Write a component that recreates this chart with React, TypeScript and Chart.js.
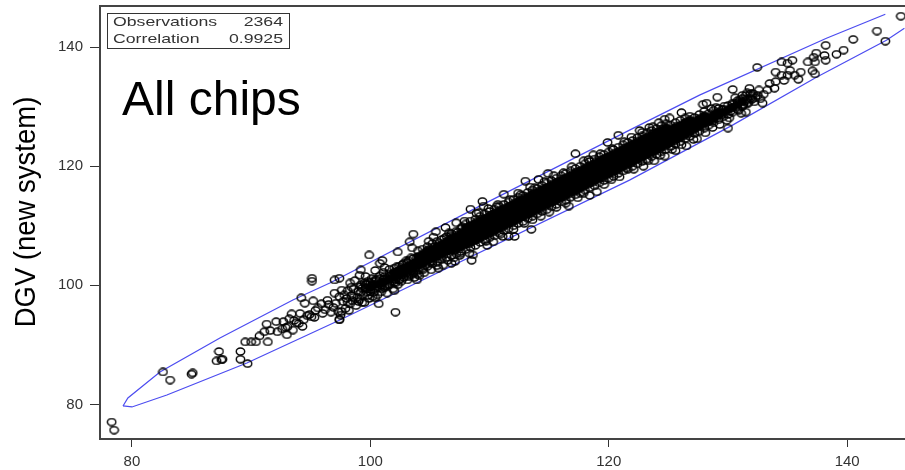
import React, { useEffect, useRef } from "react";
import { Chart, registerables } from "chart.js";

Chart.register(...registerables);

const xTicks = [80, 100, 120, 140];
const yTicks = [80, 100, 120, 140];
const statLabels = ["Observations", "Correlation"];
const statValues = ["2364", "0.9925"];
const panelLabel = "All chips";
const yAxisLabel = "DGV (new system)";

const upperEllipse = [
  [79.25, 79.75], [79.66, 81.09], [82.35, 85.45], [87.38, 91.16], [93.5, 97.53], [96.6, 100.39],
  [109.17, 113.3], [121.74, 126.06], [127.61, 131.93], [138.26, 141.49], [143.2, 145.52],
];
const lowerEllipse = [
  [79.25, 79.75], [80.0, 79.58], [82.93, 81.59], [89.64, 86.96], [97.44, 94.18], [121.74, 117.67],
  [130.38, 126.9], [137.42, 134.95], [143.29, 141.16], [144.8, 143.17],
];

const lowTail = [
  [78.3, 77.05], [78.5, 75.7], [82.6, 85.45], [83.2, 84.1], [85.0, 85.1], [85.1, 85.3],
  [87.3, 88.9], [87.1, 87.3], [87.5, 87.5], [87.6, 87.6], [89.1, 88.9], [89.1, 87.6], [89.7, 86.85],
  [89.5, 90.5], [90.0, 90.5], [90.4, 90.5], [91.4, 90.5], [91.3, 93.5], [90.7, 91.5], [91.1, 92.2],
  [91.6, 92.4], [92.1, 93.9], [92.7, 93.9], [92.2, 92.2], [93.0, 91.7], [93.05, 93.05], [93.4, 95.2],
  [93.8, 93.7], [94.1, 95.3], [93.5, 92.5], [95.05, 94.7], [96.0, 95.3], [97.4, 94.3], [94.5, 97.0],
  [95.2, 97.4], [95.1, 101.2], [95.1, 100.7], [94.2, 97.9], [94.4, 94.2], [94.7, 94.9], [93.2, 94.4],
  [92.6, 92.7], [92.9, 92.9], [93.6, 94.1], [94.0, 93.6], [94.3, 93.1], [94.9, 95.1], [95.3, 94.6],
  [95.6, 96.2], [95.9, 96.9], [95.4, 95.8], [96.2, 95.9], [96.5, 96.8], [96.7, 95.5], [96.9, 96.3],
  [96.4, 97.5], [97.1, 97.0], [97.3, 95.6], [97.5, 95.0], [97.0, 98.7], [97.4, 98.1], [97.7, 97.3],
];

const midBand = [
  [97.9, 96.1], [98.0, 97.8], [98.1, 99.1], [98.3, 96.9], [98.4, 98.3], [98.5, 97.4], [98.6, 99.4],
  [98.8, 96.6], [98.9, 98.0], [99.0, 99.0], [99.1, 97.7], [99.2, 100.1], [99.4, 98.4], [99.5, 97.1],
  [99.6, 99.6], [99.7, 98.9], [99.8, 100.7], [99.9, 97.8], [100.0, 99.3], [100.1, 101.1], [100.2, 100.2],
  [100.3, 98.8], [100.4, 97.9], [100.5, 100.9], [100.6, 99.7], [100.8, 101.6], [100.9, 98.9], [101.0, 100.4],
  [101.1, 102.2], [101.2, 99.6], [101.3, 101.2], [101.4, 98.7], [101.5, 100.1], [101.6, 102.7], [101.7, 101.6],
  [101.8, 100.6], [101.9, 99.4], [102.0, 102.2], [102.1, 101.0], [102.2, 103.1], [102.3, 100.1], [102.4, 101.8],
  [102.5, 102.7], [102.6, 100.7], [102.7, 103.5], [102.8, 101.4], [102.9, 102.3], [103.0, 104.1], [103.1, 100.9],
  [103.2, 103.1], [103.3, 101.9], [103.4, 104.6], [103.5, 102.5], [103.6, 103.6], [103.7, 101.3], [103.8, 102.9],
  [103.9, 104.7], [102.0, 99.1], [101.2, 103.0], [100.4, 102.5], [99.6, 101.5], [98.7, 100.8], [98.2, 95.8],
  [104.1, 101.6], [104.5, 102.1], [104.9, 107.4], [105.3, 108.1], [105.7, 102.9], [106.1, 103.4], [106.6, 108.8],
  [107.1, 104.0], [107.9, 110.8], [108.6, 105.1], [109.1, 112.2], [109.8, 106.7], [110.7, 113.6], [111.6, 108.2],
  [97.8, 98.4], [98.1, 97.2], [98.6, 98.0], [99.0, 97.3], [99.3, 99.5], [99.5, 100.4], [99.8, 98.3], [100.1, 99.9],
  [100.3, 100.6], [100.6, 98.4], [100.9, 100.0], [101.1, 101.0], [101.4, 99.9], [101.6, 101.1], [101.9, 101.9],
  [102.1, 100.4], [102.3, 102.3], [102.6, 101.9], [102.8, 102.9], [103.0, 102.0], [103.2, 101.4], [103.4, 102.9],
  [103.6, 102.2], [103.8, 103.8], [104.0, 101.9], [104.2, 104.2], [104.4, 102.6], [104.6, 103.4], [104.8, 105.9],
  [105.0, 103.9], [105.2, 104.0], [105.4, 106.5], [105.6, 103.3], [105.8, 107.1], [106.0, 104.8], [106.2, 107.9],
  [106.5, 104.2], [106.7, 108.3], [107.0, 104.6], [107.3, 108.9], [107.5, 105.0], [107.7, 109.8], [103.1, 103.8],
  [102.4, 100.9], [101.0, 99.4], [99.7, 100.2], [98.4, 99.7], [97.6, 99.2],
];

const edgePoints = [
  [102.1, 95.5], [100.7, 96.9], [108.5, 104.2], [112.1, 108.2], [113.5, 109.4], [116.65, 113.3], [97.4, 94.2],
  [103.6, 108.6], [99.9, 105.1], [103.3, 107.3], [102.3, 105.6], [97.4, 101.2], [97.0, 100.9], [105.5, 109.0],
  [106.3, 109.7], [107.2, 110.5], [108.4, 112.8], [109.4, 114.1], [109.5, 113.3], [111.2, 115.3], [113, 117.5],
  [114.1, 117.8], [117.2, 122.1], [119.9, 124.0], [120.8, 125.2], [118.7, 121.9], [114.9, 118.8], [112.4, 115.5],
  [113.4, 116.5], [99.2, 102.6], [99.1, 101.7], [98.3, 100.4], [101.0, 104.2], [100.8, 103.7], [103.5, 106.3],
  [108.3, 105.4], [107.6, 105.4], [106.8, 103.7], [105.1, 102.6], [103.9, 100.9], [100.2, 98.1], [99.3, 97.1],
  [97.6, 95.6], [110.3, 107.3], [111.1, 108.2], [115.0, 112.3], [113.6, 111.0], [118.4, 115.1], [119.0, 115.7],
  [120.2, 117.7], [121.5, 119.7], [122.6, 126.0], [123.4, 126.5], [124.2, 127.3], [125.1, 128.1], [126.1, 129.0],
  [122.9, 120.0], [123.8, 120.9], [124.7, 121.7], [125.6, 122.6], [126.5, 123.4], [127.4, 124.6], [127.9, 130.4],
  [108.9, 112.1], [109.9, 112.9], [110.6, 113.2], [111.7, 114.4], [112.6, 115.2], [113.8, 116.4], [114.6, 117.4],
  [115.4, 118.4], [116.2, 118.9], [116.9, 119.9], [117.9, 120.9], [118.3, 121.1], [119.3, 122.1], [120.3, 122.9],
  [121.3, 124.1], [121.9, 124.9], [122.8, 125.7], [123.7, 126.6], [124.7, 127.9], [109.7, 107.4], [110.9, 108.6],
  [112.0, 109.4], [112.9, 110.4], [114.3, 111.6], [115.6, 113.1], [116.4, 113.8], [117.4, 114.7], [117.9, 115.5],
  [119.6, 116.9], [120.9, 118.2], [122.1, 119.5], [123.3, 120.9], [124.3, 121.8], [125.3, 122.8], [126.1, 123.6],
  [127.1, 124.5], [128.1, 125.6], [128.7, 126.5], [129.3, 127.0],
];

const highTail = [
  [144.5, 145.2], [142.5, 142.7], [143.2, 141.0], [140.5, 141.3], [139.7, 139.5], [139.1, 138.8], [138.2, 140.3],
  [137.4, 139.0], [138.1, 138.6], [138.2, 137.8], [137.2, 138.3], [136.7, 137.5], [137.3, 137.5], [135.4, 137.8],
  [134.5, 137.5], [135.0, 137.3], [132.45, 136.6], [134.0, 135.8], [135.2, 136.1], [136.1, 135.8], [137.1, 136.0],
  [137.3, 135.5], [134.7, 134.4], [135.9, 134.6], [135.6, 135.3], [135.0, 135.3], [134.5, 135.3], [134.0, 134.2],
  [133.5, 133.9], [133.9, 133.1], [133.3, 132.8], [130.4, 132.9], [129.1, 131.6], [132.9, 130.6], [132.5, 131.9],
  [132.6, 132.8], [131.8, 133.1], [131.5, 131.9], [131.9, 131.4], [132.2, 130.8], [131.0, 131.1], [131.2, 131.9],
  [130.7, 130.0], [131.1, 128.9], [131.5, 129.1], [130.1, 128.1], [128.2, 130.6], [130.0, 126.4], [131.3, 130.4],
  [131.7, 130.6], [130.9, 129.4], [130.4, 130.4], [131.6, 132.3], [132.1, 132.2], [133.0, 132.1], [132.7, 131.3],
  [130.6, 131.5], [130.2, 129.2], [129.7, 130.1], [129.4, 128.6], [130.3, 129.8], [130.8, 130.7], [131.2, 130.1],
  [131.5, 131.0], [131.9, 132.2], [132.3, 131.5], [129.9, 127.7], [129.5, 129.5], [129.0, 129.9], [128.6, 129.7],
];

const coreColumns: [number, number[]][] = [
  [99.2, [98.9, 99.8]],
  [99.6, [99.4, 100.1]],
  [100.0, [98.9, 99.6, 100.4]],
  [100.4, [99.4, 100.1, 100.9]],
  [100.8, [99.6, 100.3, 101.1]],
  [101.2, [99.9, 100.7, 101.5]],
  [101.6, [100.2, 101.0, 101.9]],
  [102.0, [100.5, 101.3, 102.1, 102.9]],
  [102.4, [100.9, 101.7, 102.5, 103.2]],
  [102.8, [101.3, 102.1, 102.9, 103.7]],
  [103.2, [101.6, 102.4, 103.3, 104.1]],
  [103.6, [102.0, 102.8, 103.6, 104.5]],
  [104.0, [102.5, 103.3, 104.1, 104.9, 105.8]],
  [104.4, [102.9, 103.6, 104.6, 105.3, 106.1]],
  [104.8, [103.2, 104.1, 104.9, 105.8, 106.5]],
  [105.2, [103.6, 104.5, 105.4, 106.1, 107.0]],
  [105.6, [103.9, 104.8, 105.8, 106.6, 107.4]],
  [106.0, [104.4, 105.2, 106.1, 106.9, 107.7]],
  [106.4, [104.7, 105.7, 106.6, 107.4, 108.2]],
  [106.8, [105.0, 105.8, 106.5, 107.2, 108.0, 108.7]],
  [107.2, [105.3, 106.1, 106.9, 107.5, 108.3, 109.1]],
  [107.6, [105.7, 106.5, 107.3, 108.0, 108.8, 109.5]],
  [108.0, [106.0, 106.8, 107.5, 108.3, 109.0, 109.7, 110.3]],
  [108.4, [106.4, 107.1, 107.9, 108.6, 109.4, 110.1, 110.8]],
  [108.8, [106.7, 107.5, 108.2, 109.0, 109.8, 110.5, 111.1]],
  [109.2, [107.2, 107.9, 108.7, 109.4, 110.1, 110.9, 111.6]],
  [109.6, [107.6, 108.3, 109.0, 109.8, 110.6, 111.3, 112.0]],
  [110.0, [108.0, 108.7, 109.5, 110.2, 110.9, 111.7, 112.4]],
  [110.4, [108.3, 109.1, 109.8, 110.6, 111.4, 112.1, 112.8]],
  [110.8, [108.8, 109.5, 110.3, 111.0, 111.7, 112.5, 113.2]],
  [111.2, [109.2, 109.9, 110.6, 111.4, 112.2, 112.9, 113.6]],
  [111.6, [109.5, 110.3, 111.1, 111.8, 112.5, 113.3, 114.0]],
  [112.0, [110.0, 110.7, 111.4, 112.2, 113.0, 113.7, 114.4]],
  [112.4, [110.4, 111.1, 111.9, 112.6, 113.3, 114.1, 114.8]],
  [112.8, [110.7, 111.5, 112.3, 113.0, 113.8, 114.5, 115.1]],
  [113.2, [111.2, 111.9, 112.6, 113.4, 114.2, 114.9, 115.6]],
  [113.6, [111.6, 112.3, 113.1, 113.8, 114.5, 115.3, 116.0]],
  [114.0, [112.0, 112.7, 113.4, 114.2, 115.0, 115.7, 116.3]],
  [114.4, [112.4, 113.1, 113.9, 114.6, 115.3, 116.1, 116.8]],
  [114.8, [112.7, 113.5, 114.2, 115.0, 115.8, 116.5, 117.2]],
  [115.2, [113.2, 113.9, 114.7, 115.4, 116.1, 116.9, 117.6]],
  [115.6, [113.6, 114.3, 115.0, 115.8, 116.6, 117.3, 118.0]],
  [116.0, [114.0, 114.7, 115.5, 116.2, 116.9, 117.7, 118.4]],
  [116.4, [114.3, 115.1, 115.8, 116.6, 117.4, 118.1, 118.8]],
  [116.8, [114.8, 115.5, 116.3, 117.0, 117.7, 118.5, 119.2]],
  [117.2, [115.2, 115.9, 116.6, 117.4, 118.2, 118.9, 119.6]],
  [117.6, [115.5, 116.3, 117.1, 117.8, 118.5, 119.3, 120.0]],
  [118.0, [116.0, 116.7, 117.4, 118.2, 119.0, 119.7, 120.4]],
  [118.4, [116.4, 117.1, 117.9, 118.6, 119.3, 120.1, 120.8]],
  [118.8, [116.7, 117.5, 118.2, 119.0, 119.8, 120.5, 121.2]],
  [119.2, [117.2, 117.9, 118.7, 119.4, 120.1, 120.9, 121.6]],
  [119.6, [117.6, 118.3, 119.0, 119.8, 120.6, 121.3, 122.0]],
  [120.0, [118.0, 118.7, 119.5, 120.2, 120.9, 121.7, 122.4]],
  [120.4, [118.3, 119.1, 119.8, 120.6, 121.4, 122.1, 122.8]],
  [120.8, [118.8, 119.5, 120.3, 121.0, 121.7, 122.5, 123.2]],
  [121.2, [119.2, 119.9, 120.6, 121.4, 122.2, 122.9, 123.6]],
  [121.6, [119.5, 120.3, 121.1, 121.8, 122.5, 123.3, 124.0]],
  [122.0, [120.0, 120.7, 121.4, 122.2, 123.0, 123.7, 124.3]],
  [122.4, [120.4, 121.1, 121.9, 122.6, 123.3, 124.1, 124.8]],
  [122.8, [120.8, 121.5, 122.2, 123.0, 123.8, 124.5, 125.1]],
  [123.2, [121.2, 121.9, 122.7, 123.4, 124.1, 124.9, 125.6]],
  [123.6, [121.6, 122.3, 123.0, 123.8, 124.6, 125.3, 126.0]],
  [124.0, [122.0, 122.7, 123.5, 124.2, 124.9, 125.7, 126.3]],
  [124.4, [122.4, 123.1, 123.8, 124.6, 125.4, 126.1, 126.8]],
  [124.8, [122.8, 123.5, 124.3, 125.0, 125.7, 126.5, 127.1]],
  [125.2, [123.3, 124.0, 124.7, 125.4, 126.2, 126.9]],
  [125.6, [123.7, 124.4, 125.1, 125.8, 126.6, 127.3]],
  [126.0, [124.1, 124.8, 125.5, 126.2, 126.9, 127.7]],
  [126.4, [124.6, 125.2, 126.0, 126.7, 127.4, 128.1]],
  [126.8, [125.0, 125.7, 126.4, 127.1, 127.8, 128.4]],
  [127.2, [125.5, 126.2, 126.9, 127.5, 128.2]],
  [127.6, [125.9, 126.6, 127.3, 128.0, 128.7]],
  [128.0, [126.4, 127.1, 127.8, 128.5, 129.2]],
  [128.4, [126.9, 127.5, 128.2, 128.9]],
  [128.8, [127.3, 127.9, 128.6, 129.4]],
  [129.2, [127.8, 128.5, 129.1, 129.7]],
  [129.6, [128.3, 129.0, 129.6]],
  [130.0, [128.7, 129.5, 130.2]],
  [130.4, [129.1, 129.9, 130.6]],
  [130.8, [129.6, 130.3, 131.0]],
  [131.2, [130.1, 130.8, 131.4]],
  [131.6, [130.6, 131.3]],
  [132.0, [131.2, 131.8]],
];

const solidPoints = coreColumns.flatMap(([x, ys]) => ys.slice(1, -1).map((y) => ({ x, y })));
const rimPoints = coreColumns.flatMap(([x, ys]) => [{ x, y: ys[0] }, { x, y: ys[ys.length - 1] }]);
const toPoints = (rows: number[][]) => rows.map(([x, y]) => ({ x, y }));

function makeRing(fill: boolean) {
  const cv = document.createElement("canvas");
  cv.width = 11;
  cv.height = 9;
  const c = cv.getContext("2d") as CanvasRenderingContext2D;
  c.beginPath();
  c.ellipse(5.5, 4.5, 4.2, 3.5, 0, 0, Math.PI * 2);
  if (fill) {
    c.fillStyle = "#000";
    c.fill();
  }
  c.strokeStyle = "#000";
  c.lineWidth = 1.4;
  c.stroke();
  return cv;
}

const textOverlay = {
  id: "textOverlay",
  afterDraw(chart: any) {
    const c = chart.ctx;
    c.save();
    c.strokeStyle = "#444";
    c.lineWidth = 2;
    c.beginPath();
    c.moveTo(100, 6);
    c.lineTo(905, 6);
    c.stroke();
    c.fillStyle = "#fff";
    c.fillRect(107, 13, 182, 36);
    c.strokeStyle = "#333";
    c.lineWidth = 1;
    c.strokeRect(107.5, 13.5, 182, 35);
    c.fillStyle = "#333";
    c.font = '13px "Liberation Sans"';
    statLabels.forEach((t, i) => {
      const base = 26 + i * 17;
      c.save();
      c.translate(113, base);
      c.scale(1.36, 1);
      c.textAlign = "left";
      c.fillText(t, 0, 0);
      c.restore();
      c.save();
      c.translate(283, base);
      c.scale(1.36, 1);
      c.textAlign = "right";
      c.fillText(statValues[i], 0, 0);
      c.restore();
    });
    c.fillStyle = "#000";
    c.font = '48px "Liberation Sans"';
    c.textAlign = "left";
    c.fillText(panelLabel, 122, 115);
    c.save();
    c.translate(35, 212);
    c.rotate(-Math.PI / 2);
    c.scale(1, 1.1);
    c.font = '27.5px "Liberation Sans"';
    c.textAlign = "center";
    c.fillText(yAxisLabel, 0, 0);
    c.restore();
    c.restore();
  },
};

export default function App() {
  const ref = useRef<HTMLCanvasElement>(null);
  useEffect(() => {
    document.body.style.margin = "0";
    const ring = { pointStyle: makeRing(false), showLine: false };
    const solid = { pointStyle: makeRing(true), showLine: false };
    const chart = new Chart(ref.current as HTMLCanvasElement, {
      type: "scatter",
      data: {
        datasets: [
          { label: "Upper limit", data: toPoints(upperEllipse), showLine: true, borderColor: "#4c4cf0", borderWidth: 1.2, pointRadius: 0, order: 5 },
          { label: "Lower limit", data: toPoints(lowerEllipse), showLine: true, borderColor: "#4c4cf0", borderWidth: 1.2, pointRadius: 0, order: 5 },
          { label: "Low tail", data: toPoints(lowTail), ...ring, order: 1 },
          { label: "Mid band", data: toPoints(midBand), ...ring, order: 1 },
          { label: "Edge", data: toPoints(edgePoints), ...ring, order: 1 },
          { label: "High tail", data: toPoints(highTail), ...ring, order: 1 },
          { label: "Core rim", data: rimPoints, ...ring, order: 1 },
          { label: "Core", data: solidPoints, ...solid, order: 1 },
        ] as any,
      },
      options: {
        responsive: false,
        animation: false,
        layout: { autoPadding: false, padding: { top: 6, left: 0, right: 0, bottom: 0 } },
        plugins: { legend: { display: false }, tooltip: { enabled: false } },
        scales: {
          x: {
            type: "linear",
            min: 77.32,
            max: 144.85,
            afterBuildTicks: (s: any) => { s.ticks = xTicks.map((value) => ({ value })); },
            afterFit: (s: any) => { s.height = 31; s.paddingLeft = 0; s.paddingRight = 0; },
            border: { display: true, color: "#444", width: 2 },
            grid: { drawOnChartArea: false, drawTicks: true, tickLength: 8, tickColor: "#333", tickWidth: 1 },
            ticks: { color: "#333", font: { family: "Liberation Sans", size: 15 }, padding: 6, maxRotation: 0 },
          },
          y: {
            type: "linear",
            min: 74.2,
            max: 146.9,
            afterBuildTicks: (s: any) => { s.ticks = yTicks.map((value) => ({ value })); },
            afterFit: (s: any) => { s.width = 100; s.paddingTop = 0; s.paddingBottom = 0; },
            border: { display: true, color: "#444", width: 2 },
            grid: { drawOnChartArea: false, drawTicks: true, tickLength: 10, tickColor: "#333", tickWidth: 1 },
            ticks: { color: "#333", font: { family: "Liberation Sans", size: 15 }, padding: 7 },
          },
        },
      } as any,
      plugins: [textOverlay],
    });
    return () => chart.destroy();
  }, []);
  return (
    <div style={{ width: 905, height: 470, background: "#fff" }}>
      <canvas ref={ref} width={905} height={470} style={{ display: "block" }} />
    </div>
  );
}
